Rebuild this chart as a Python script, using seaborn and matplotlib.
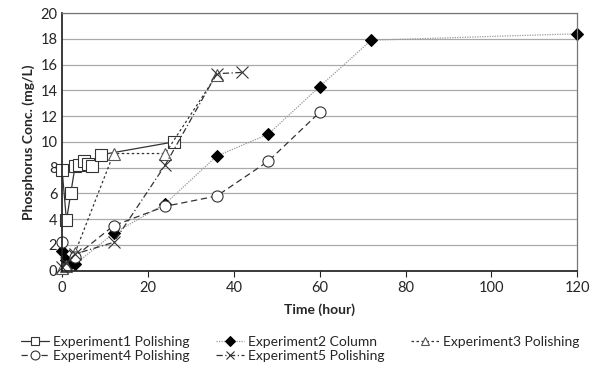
import matplotlib
matplotlib.use("Agg")
import matplotlib.pyplot as plt
import seaborn as sns
import pandas as pd

t1 = [0, 1, 2, 3, 4, 5, 6, 7, 9, 26]
y1 = [7.8, 3.9, 6.0, 8.1, 8.2, 8.5, 8.3, 8.1, 9.0, 10.0]
t2 = [0, 1, 2, 3, 12, 24, 36, 48, 60, 72, 120]
y2 = [1.5, 0.8, 0.6, 0.5, 2.9, 5.2, 8.9, 10.6, 14.3, 17.9, 18.4]
t3 = [0, 1, 3, 12, 24, 36]
y3 = [0.2, 0.4, 1.4, 9.1, 9.1, 15.2]
t4 = [0, 3, 12, 24, 36, 48, 60]
y4 = [2.2, 1.1, 3.5, 5.0, 5.8, 8.5, 12.3]
t5 = [0, 1, 3, 12, 24, 36, 42]
y5 = [0.3, 0.6, 1.3, 2.2, 8.2, 15.3, 15.4]
names = ["Experiment1 Polishing", "Experiment2 Column", "Experiment3 Polishing",
         "Experiment4 Polishing", "Experiment5 Polishing"]

sns.set_theme(style="white")
plt.rcParams['font.family'] = ['Lato', 'DejaVu Sans']

fig, ax = plt.subplots(figsize=(5.92, 3.76), dpi=100)
styles = [
    dict(color="#333333", ls="-", lw=0.9, marker="s", ms=8, mfc="white", mec="#333333", mew=0.8),
    dict(color="#999999", ls=(0, (1, 1)), lw=0.9, marker="D", ms=6, mfc="black", mec="black"),
    dict(color="#333333", ls=(0, (2, 2)), lw=0.9, marker="^", ms=8, mfc="white", mec="#555555", mew=0.8),
    dict(color="#333333", ls=(0, (5, 3)), lw=0.9, marker="o", ms=8, mfc="white", mec="#333333", mew=0.8),
    dict(color="#333333", ls=(0, (5, 2, 1, 2)), lw=0.9, marker="x", ms=8, mec="#333333", mew=0.8),
]
data = [(t1, y1), (t2, y2), (t3, y3), (t4, y4), (t5, y5)]
for (t, y), n, st in zip(data, names, styles):
    df = pd.DataFrame({"t": t, "y": y})
    c = st.pop("color")
    ls = st.pop("ls")
    lw = st.pop("lw")
    sns.lineplot(data=df, x="t", y="y", ax=ax, color=c, lw=lw, label=n, sort=False, **st)
    ax.lines[-1].set_linestyle(ls)
    ax.lines[-1].set_clip_on(False)

ax.set_xlim(0, 120)
ax.set_ylim(0, 20)
ax.set_xticks(range(0, 121, 20))
ax.set_yticks(range(0, 21, 2))
ax.yaxis.grid(True, color="#aaaaaa", lw=0.9)
ax.set_axisbelow(True)
for s in ["top", "right"]:
    ax.spines[s].set_color("#777777")
    ax.spines[s].set_linewidth(0.9)
ax.spines["left"].set_color("#222222")
ax.spines["bottom"].set_color("#222222")
ax.tick_params(axis="x", direction="out", length=4, width=0.8, color="#222222", bottom=True, labelsize=10.5)
ax.tick_params(axis="y", length=0, labelsize=10.5)
ax.set_xlabel("Time (hour)", fontweight="bold", fontsize=10, labelpad=6)
ax.set_ylabel("Phosphorus Conc. (mg/L)", fontweight="bold", fontsize=10)
h, l = ax.get_legend_handles_labels()
order = [0, 3, 1, 4, 2]
ax.legend([h[i] for i in order], [l[i] for i in order],
          loc="upper left", bbox_to_anchor=(-0.09, -0.23), ncol=3, frameon=False,
          fontsize=10, handlelength=2.0, handletextpad=0.3, columnspacing=1.9,
          labelspacing=0.2, borderaxespad=0, markerscale=0.8)
fig.subplots_adjust(left=0.105, right=0.975, top=0.965, bottom=0.28)
fig.savefig("out.png", dpi=100)
